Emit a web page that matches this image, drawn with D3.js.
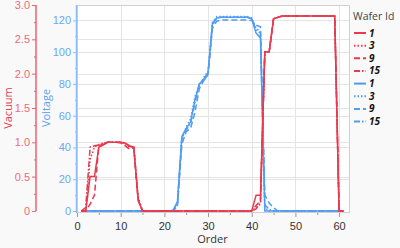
<!DOCTYPE html>
<html><head><meta charset="utf-8">
<script src="https://cdn.jsdelivr.net/npm/d3@7"></script>
<style>
html,body{margin:0;padding:0;background:#f9f9f9;}
svg{display:block;font-family:"Open Sans","Noto Sans",sans-serif;}
</style></head><body>
<svg id="c" width="400" height="248"></svg>
<script>
const orders = d3.range(1, 62);
const wafers = ["1", "3", "9", "15"];
const xTicks = [0, 10, 20, 30, 40, 50, 60];
const vacTicks = [0, 0.5, 1.0, 1.5, 2.0, 2.5, 3.0];
const voltTicks = [0, 20, 40, 60, 80, 100, 120];

function seq(parts){ // parts: [[value, count], ...]
  const out = [];
  parts.forEach(p => { if (Array.isArray(p)) { for (let i=0;i<p[1];i++) out.push(p[0]); } else out.push(p); });
  return out;
}
// Vacuum values, order 1..61
const vac1  = seq([0,0,0.5,0.5,0.93,0.96,1.0,1.0,1.0,1.0,0.99,0.95,0.93,0.16,[0,26],0.23,0.23,2.32,2.32,2.8,2.82,[2.84,13],0,0]);
const vac3  = seq([0,0,0.75,0.93,0.97,0.99,1.0,1.0,1.0,1.0,0.98,0.93,0.93,0.2,[0,26],0.05,0.1,2.32,2.32,2.8,2.82,[2.84,13],0,0]);
const vac9  = seq([0,0,0.1,0.23,0.95,0.97,1.0,1.0,1.0,0.99,0.95,0.9,0.92,0.15,[0,26],0.08,0.15,2.32,2.32,2.8,2.82,[2.84,13],0,0]);
const vac15 = seq([0,0.05,0.93,0.95,0.96,0.98,1.0,1.0,1.0,1.0,0.99,0.94,0.93,0.18,[0,26],0.03,0.12,2.32,2.32,2.8,2.82,[2.84,13],0,0]);
// Voltage values, order 1..61
const volt1  = seq([[0,21],0.5,6,47,52,56,70,80,83,87,118,121.5,[122,7],121,112,109,[0,19]]);
const volt3  = seq([[0,21],0,4,45,53,58,72,79,84,88,119,122.5,[122.5,7],121.5,115,113,2,[0,18]]);
const volt9  = seq([[0,21],0,3,42,50,52,62,77,82,86,115,119.5,[120.3,7],120,117,116,10,5,2,[0,16]]);
const volt15 = seq([[0,21],0,5,46,51,55,68,80,82,86,117,121.5,[122,7],121,114,112,4,1,[0,17]]);

const vacuum  = {"1":vac1, "3":vac3, "9":vac9, "15":vac15};
const voltage = {"1":volt1, "3":volt3, "9":volt9, "15":volt15};
const dashes = {"1":null, "3":"1.5,2", "9":"6,3", "15":"6,2,1.5,2"};

const RED = "#e8394f", BLUE = "#4f9cf3";
const svg = d3.select("#c");
const L = 77, R = 350, T = 5, B = 213;

const x = d3.scaleLinear().domain([0, 62.5]).range([L, R]);
const yVac = d3.scaleLinear().domain([-0.03, 3.0]).range([B, T]);
const yVolt = d3.scaleLinear().domain([-1.26, 129.7]).range([B, T]);

svg.append("rect").attr("x", L).attr("y", T).attr("width", R-L).attr("height", B-T).attr("fill", "#fff");

// gridlines
const g = svg.append("g").attr("stroke", "#e4e4e4").attr("stroke-width", 1);
xTicks.slice(1).forEach(t => g.append("line").attr("x1", Math.round(x(t))+0.5).attr("x2", Math.round(x(t))+0.5).attr("y1", T).attr("y2", B));
voltTicks.slice(1).forEach(t => g.append("line").attr("x1", L).attr("x2", R).attr("y1", Math.round(yVolt(t))+0.5).attr("y2", Math.round(yVolt(t))+0.5));
vacTicks.slice(1).forEach(t => g.append("line").attr("x1", L).attr("x2", R).attr("y1", Math.round(yVac(t))+0.5).attr("y2", Math.round(yVac(t))+0.5));

// frame
svg.append("rect").attr("x", L+0.5).attr("y", T+0.5).attr("width", R-L-1).attr("height", B-T-1)
  .attr("fill", "none").attr("stroke", "#d0d0d0");

// lines
const clip = svg.append("clipPath").attr("id", "pc").append("rect").attr("x", L).attr("y", T).attr("width", R-L).attr("height", B-T);
const plot = svg.append("g").attr("clip-path", "url(#pc)");
const lineVolt = d3.line().x((d,i) => x(orders[i])).y(d => yVolt(d));
const lineVac = d3.line().x((d,i) => x(orders[i])).y(d => yVac(d));
wafers.slice().reverse().forEach(w => {
  plot.append("path").attr("d", lineVolt(voltage[w])).attr("fill", "none").attr("stroke", BLUE)
    .attr("stroke-width", 1.5).attr("stroke-dasharray", dashes[w]);
});
wafers.slice().reverse().forEach(w => {
  plot.append("path").attr("d", lineVac(vacuum[w])).attr("fill", "none").attr("stroke", RED)
    .attr("stroke-width", 1.5).attr("stroke-dasharray", dashes[w]);
});

// x axis
const xAxis = svg.append("g").attr("transform", `translate(0,${B})`)
  .call(d3.axisBottom(x).tickValues(xTicks).tickSize(4).tickFormat(d3.format("d")));
xAxis.select(".domain").remove();
xAxis.selectAll(".tick line").attr("stroke", "#999");
xAxis.selectAll("text").attr("fill", "#333").attr("font-size", 11).attr("dy", "0.95em");
const xMinor = svg.append("g").attr("transform", `translate(0,${B})`)
  .call(d3.axisBottom(x).tickValues([5,15,25,35,45,55]).tickSize(2).tickFormat(""));
xMinor.select(".domain").remove();
xMinor.selectAll(".tick line").attr("stroke", "#999");
svg.append("text").attr("x", x(31)).attr("y", 243).attr("text-anchor", "middle")
  .attr("font-size", 11).attr("fill", "#333").text("Order");

// voltage axis
const vA = svg.append("g").attr("transform", `translate(${L},0)`)
  .call(d3.axisLeft(yVolt).tickValues(voltTicks).tickSize(4).tickFormat(d3.format("d")));
vA.select(".domain").attr("d", `M-0.5,${T}V${B}`).attr("stroke", "#8dbdf5").attr("stroke-width", 1.5);
vA.selectAll(".tick line").attr("stroke", "#8dbdf5");
vA.selectAll("text").attr("fill", "#6aa8f2").attr("font-size", 11).attr("x", -6);
const vMinor = svg.append("g").attr("transform", `translate(${L},0)`)
  .call(d3.axisLeft(yVolt).tickValues([10,30,50,70,90,110]).tickSize(2).tickFormat(""));
vMinor.select(".domain").remove();
vMinor.selectAll(".tick line").attr("stroke", "#8dbdf5");
svg.append("text").attr("transform", `translate(50,108) rotate(-90)`).attr("text-anchor", "middle")
  .attr("font-size", 11).attr("fill", "#5ea2f2").text("Voltage");

// vacuum axis
const VX = 36;
const aA = svg.append("g").attr("transform", `translate(${VX},0)`)
  .call(d3.axisLeft(yVac).tickValues(vacTicks).tickSize(4).tickFormat(d => d === 0 ? "0" : d3.format(".1f")(d)));
aA.select(".domain").attr("d", `M0,${yVac(3.0)}V${yVac(0)}`).attr("stroke", "#ee6072").attr("stroke-width", 1.5);
aA.selectAll(".tick line").attr("stroke", "#ee6072");
aA.selectAll("text").attr("fill", "#f06a7a").attr("font-size", 11).attr("x", -6);
const aMinor = svg.append("g").attr("transform", `translate(${VX},0)`)
  .call(d3.axisLeft(yVac).tickValues([0.25,0.75,1.25,1.75,2.25,2.75]).tickSize(2).tickFormat(""));
aMinor.select(".domain").remove();
aMinor.selectAll(".tick line").attr("stroke", "#ee6072");
svg.append("text").attr("transform", `translate(12,108) rotate(-90)`).attr("text-anchor", "middle")
  .attr("font-size", 11).attr("fill", "#e8394f").text("Vacuum");

// legend
const lg = svg.append("g");
lg.append("text").attr("x", 353).attr("y", 20).attr("font-size", 10.5).attr("fill", "#444").text("Wafer Id");
const items = [];
["Vacuum", "Voltage"].forEach(m => wafers.forEach(w => items.push({m, w})));
items.forEach((it, i) => {
  const yy = 33 + i * 12.65;
  const col = it.m === "Vacuum" ? RED : BLUE;
  lg.append("line").attr("x1", 354).attr("x2", 366).attr("y1", yy).attr("y2", yy)
    .attr("stroke", col).attr("stroke-width", 2).attr("stroke-dasharray", dashes[it.w]);
  lg.append("text").attr("x", 369).attr("y", yy + 3.5).attr("font-size", 10).attr("font-weight", "bold")
    .attr("font-style", "italic").attr("fill", "#111").text(it.w);
});
</script>
</body></html>
